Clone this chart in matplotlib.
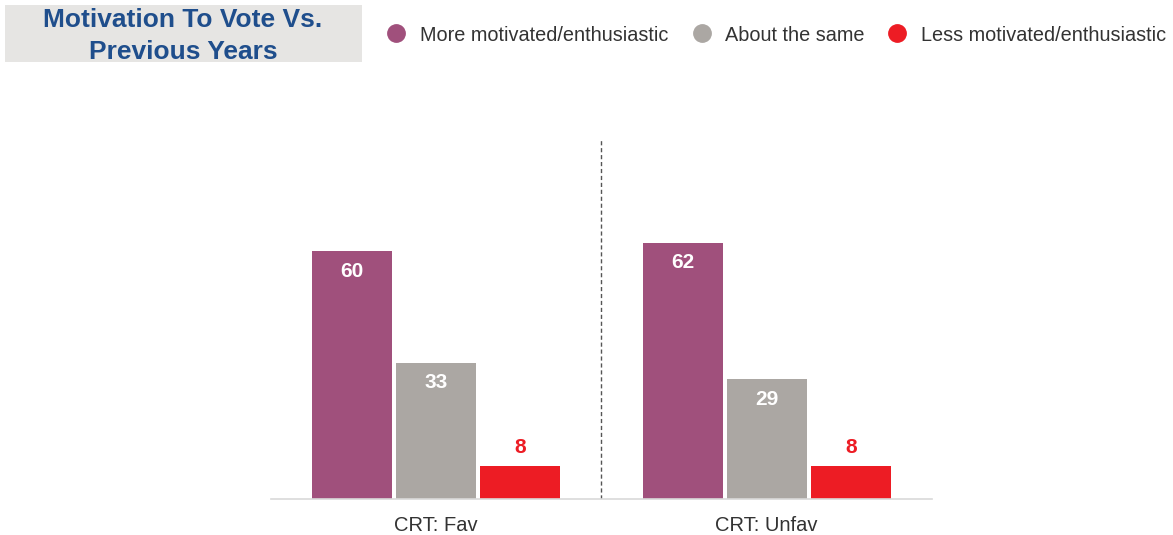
import matplotlib.pyplot as plt
import numpy as np
from matplotlib.patches import Rectangle
from matplotlib.lines import Line2D

plt.rcParams['font.family'] = ['Liberation Sans', 'DejaVu Sans']

# Datos
grupos = ["CRT: Fav", "CRT: Unfav"]
series = ["More motivated/enthusiastic", "About the same", "Less motivated/enthusiastic"]
mais = [60, 62]
igual = [33, 29]
menos = [8, 8]
cores = ["#A0507C", "#ABA7A3", "#ED1C24"]

W, H = 1173, 535
fig = plt.figure(figsize=(W / 100, H / 100), dpi=100)
ax = fig.add_axes([0.231, 0.0673, 0.5635, 0.671])

x = np.arange(len(grupos))
largura = 0.2424
passo = 0.2545

for i, (valores, cor) in enumerate(zip([mais, igual, menos], cores)):
    pos = x + (i - 1) * passo
    ax.bar(pos, valores, width=largura, color=cor)
    for p, v in zip(pos, valores):
        if v > 15:
            ax.text(p, v - 4.8, f"{v}", ha="center", va="center", color="white",
                    fontsize=15, fontweight="bold")
        else:
            ax.text(p, v + 4.4, f"{v}", ha="center", va="center", color=cor,
                    fontsize=15, fontweight="bold")

ax.set_xlim(-0.5, 1.5)
ax.set_ylim(0, 87)
ax.axvline(0.5, color="#555555", linestyle=(0, (3, 2)), linewidth=1)

for s in ["top", "right", "left"]:
    ax.spines[s].set_visible(False)
ax.spines["bottom"].set_color("#D9D9D9")
ax.spines["bottom"].set_linewidth(1.2)
ax.set_yticks([])
ax.set_xticks(x)
ax.set_xticklabels(grupos, fontsize=14.5, color="#333333")
ax.tick_params(axis="x", length=0, pad=12)

# Titulo com caixa cinza
fig.patches.append(Rectangle((5 / W, 1 - 62 / H), 357 / W, 57 / H,
                             transform=fig.transFigure, facecolor="#E6E5E3",
                             edgecolor="none"))
fig.text(183 / W, 1 - 36 / H, "Motivation To Vote Vs.\nPrevious Years",
         ha="center", va="center", fontsize=19, fontweight="bold",
         color="#1F4E8C", linespacing=1.45)

# Legenda (posicionada manualmente)
marcador_x = [396, 702, 897]
texto_x = [420, 725, 921]
ly = 1 - 33 / H
for mx, tx, cor, nome in zip(marcador_x, texto_x, cores, series):
    fig.add_artist(Line2D([mx / W], [ly], transform=fig.transFigure, marker="o",
                          linestyle="none", markersize=12.5, markerfacecolor=cor,
                          markeredgecolor=cor))
    fig.text(tx / W, ly - 0.004, nome, ha="left", va="center", fontsize=14.3, color="#333333")

fig.savefig("out.png", dpi=100)
